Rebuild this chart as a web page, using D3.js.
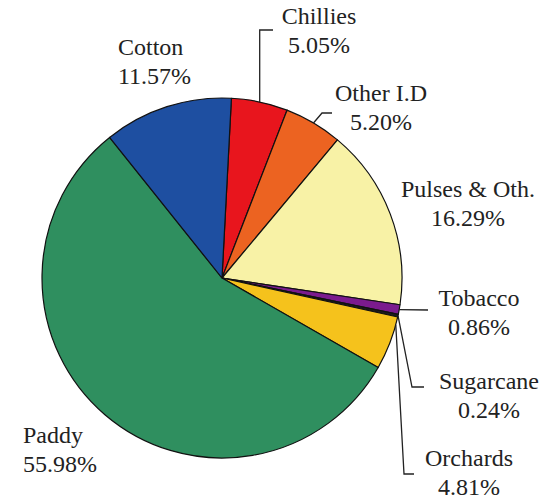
<!DOCTYPE html>
<html>
<head>
<meta charset="utf-8">
<script src="https://cdn.jsdelivr.net/npm/d3@7/dist/d3.min.js"></script>
</head>
<body style="margin:0">
<svg id="chart" width="552" height="504"></svg>
<script>
// Crop area shares (%), listed clockwise from the top of the pie
const crops = ["Chillies", "Other I.D", "Pulses & Oth.", "Tobacco", "Sugarcane", "Orchards", "Paddy", "Cotton"];
const shares = [5.05, 5.20, 16.29, 0.86, 0.24, 4.81, 55.98, 11.57];
const sliceColors = ["#e8151d", "#ec6321", "#f8f2a6", "#7b1b8e", "#1e1e1e", "#f5c21c", "#2f8f5f", "#1e4fa1"];

// Label placement: text anchor point, alignment, and leader bend points
const labelLayout = {
  "Chillies":      { x: 319, y: 24,  anchor: "middle", frac: 0.5,  bends: [[null, 30], [273, 30]] },
  "Other I.D":     { x: 381, y: 101, anchor: "middle", frac: 0.5,  bends: [[322, 113], [332, 113]] },
  "Pulses & Oth.": { x: 468, y: 197, anchor: "middle", frac: null, bends: [] },
  "Tobacco":       { x: 479, y: 306, anchor: "middle", frac: 0.5,  bends: [[428, 310]] },
  "Sugarcane":     { x: 489, y: 389, anchor: "middle", frac: 0.5,  bends: [[412, 387], [424, 387]] },
  "Orchards":      { x: 469, y: 466, anchor: "middle", frac: 0.15, bends: [[404, 474], [414, 474]] },
  "Paddy":         { x: 23,  y: 443, anchor: "start",  frac: null, bends: [] },
  "Cotton":        { x: 118, y: 55,  anchor: "start",  frac: null, bends: [] }
};

const cx = 222, cy = 278, radius = 180;
const startAngle = 3 * Math.PI / 180;
const lineGap = 28.5;

const data = crops.map((c, i) => ({ crop: c, share: shares[i], color: sliceColors[i] }));

const pie = d3.pie()
  .sort(null)
  .value(d => d.share)
  .startAngle(startAngle)
  .endAngle(startAngle + 2 * Math.PI);

const arc = d3.arc().innerRadius(0).outerRadius(radius);

const svg = d3.select("#chart");
const arcs = pie(data);

// Labels first, set in a serif face
const fmt = d3.format(".2f");
arcs.forEach(d => {
  const lay = labelLayout[d.data.crop];
  [d.data.crop, fmt(d.data.share) + "%"].forEach((txt, k) => {
    svg.append("text")
      .attr("x", lay.x)
      .attr("y", lay.y + k * lineGap)
      .attr("font-family", "Liberation Serif")
      .attr("font-size", 24)
      .style("font-family", "Liberation Serif")
      .attr("fill", "#222")
      .attr("text-anchor", lay.anchor)
      .text(txt);
  });
});

const g = svg.append("g").attr("transform", `translate(${cx},${cy})`);

g.selectAll("path.slice")
  .data(arcs)
  .join("path")
  .attr("class", "slice")
  .attr("d", arc)
  .attr("fill", d => d.data.color)
  .attr("stroke", "#111")
  .attr("stroke-width", 1.2)
  .attr("stroke-linejoin", "round");

// Leader lines from the rim of a slice to its label
const leaders = svg.append("g").attr("fill", "none").attr("stroke", "#222").attr("stroke-width", 1.3);
arcs.forEach(d => {
  const lay = labelLayout[d.data.crop];
  if (lay.frac === null) return;
  const a = d.startAngle + (d.endAngle - d.startAngle) * lay.frac;
  const sx = cx + radius * Math.sin(a);
  const sy = cy - radius * Math.cos(a);
  const pts = [[sx, sy]].concat(lay.bends.map(p => [p[0] === null ? sx : p[0], p[1]]));
  leaders.append("path").attr("d", d3.line()(pts));
});
</script>
</body>
</html>
